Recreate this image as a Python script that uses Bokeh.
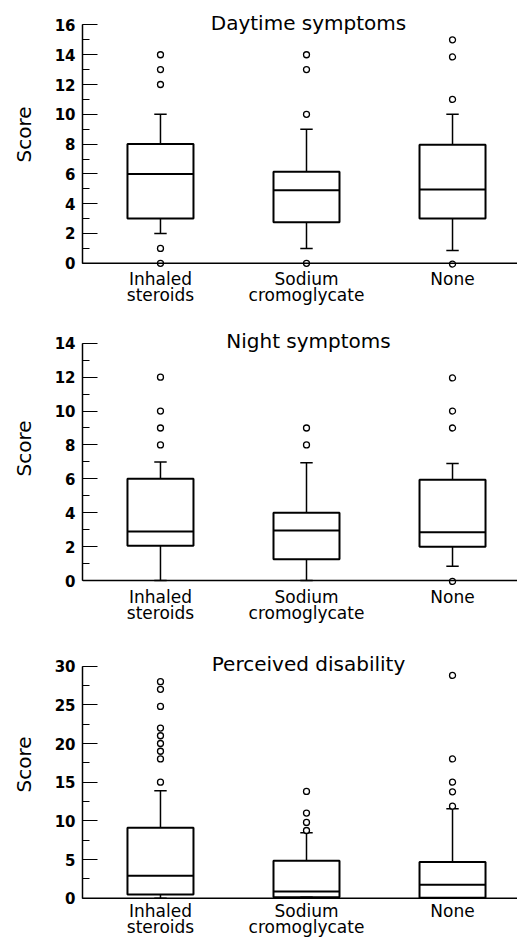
from bokeh.plotting import figure
from bokeh.models import Range1d, SingleIntervalTicker, FixedTicker, Span, Label
from bokeh.layouts import column
from bokeh.embed import file_html
from bokeh.resources import INLINE

# ---------------- data ----------------
categories = ["Inhaled\nsteroids", "Sodium\ncromoglycate", "None"]
titles = ["Daytime symptoms", "Night symptoms", "Perceived disability"]
y_max = [16, 14, 30]
y_tick_step = [2, 2, 5]

# Daytime symptoms
day_q1 = [3.0, 2.75, 3.0]
day_med = [6.0, 4.9, 4.95]
day_q3 = [8.0, 6.15, 7.95]
day_lo = [2.0, 1.0, 0.85]
day_hi = [10.0, 9.0, 10.0]
day_out_cat = [0, 0, 0, 0, 0, 1, 1, 1, 1, 2, 2, 2, 2]
day_out_val = [14, 13, 12, 1, 0, 14, 13, 10, 0, 15, 13.85, 11, -0.05]

# Night symptoms
night_q1 = [2.05, 1.25, 2.0]
night_med = [2.9, 2.95, 2.85]
night_q3 = [6.0, 4.0, 5.95]
night_lo = [0.0, 0.0, 0.85]
night_hi = [7.0, 6.95, 6.9]
night_out_cat = [0, 0, 0, 0, 1, 1, 2, 2, 2, 2]
night_out_val = [8, 9, 10, 12, 8, 9, 9, 10, 11.95, -0.05]

# Perceived disability
dis_q1 = [0.48, 0.13, 0.05]
dis_med = [2.9, 0.85, 1.73]
dis_q3 = [9.1, 4.85, 4.68]
dis_lo = [0.0, 0.13, 0.05]
dis_hi = [13.9, 8.45, 11.55]
dis_out_cat = [0, 0, 0, 0, 0, 0, 0, 0, 0, 1, 1, 1, 1, 2, 2, 2, 2, 2]
dis_out_val = [15, 18, 19, 20, 21, 22, 24.8, 27, 28, 8.75, 9.8, 11, 13.8,
               11.9, 13.75, 15, 18, 28.8]

xs = [i + 0.5 for i in range(len(categories))]
BOX_W = 0.452
CAP_W = 0.085
FONT = "DejaVu Sans"


def panel(idx, q1, med, q3, lo, hi, out_cat, out_val, height, y_start, y_end, border_bottom):
    ymax = y_max[idx]
    p = figure(width=517, height=height,
               x_range=Range1d(-0.034, 2.945), y_range=Range1d(y_start, y_end),
               output_backend="svg", toolbar_location=None,
               min_border_left=82, min_border_right=0, min_border_top=0,
               min_border_bottom=border_bottom)
    p.outline_line_color = None
    p.xgrid.visible = False
    p.ygrid.visible = False
    p.background_fill_color = "white"
    p.border_fill_color = "white"

    # y axis
    yax = p.yaxis[0]
    yax.ticker = SingleIntervalTicker(interval=y_tick_step[idx], num_minor_ticks=2)
    yax.bounds = (0, ymax)
    yax.axis_line_color = "black"
    yax.axis_line_width = 1.5
    yax.major_tick_in = 15
    yax.major_tick_out = 0
    yax.minor_tick_in = 7
    yax.minor_tick_out = 0
    yax.major_tick_line_color = "black"
    yax.minor_tick_line_color = "black"
    yax.major_tick_line_width = 1.2
    yax.minor_tick_line_width = 1.2
    yax.major_label_text_font = FONT
    yax.major_label_text_font_style = "bold"
    yax.major_label_text_font_size = "15px"
    yax.major_label_text_color = "black"
    yax.major_label_standoff = 7
    yax.axis_label = "Score"
    yax.axis_label_text_font = FONT
    yax.axis_label_text_font_style = "normal"
    yax.axis_label_text_font_size = "20px"
    yax.axis_label_text_color = "black"
    yax.axis_label_standoff = 16

    # x axis (labels only; line drawn at y=0)
    xax = p.xaxis[0]
    xax.ticker = FixedTicker(ticks=xs)
    xax.major_label_overrides = {x: c for x, c in zip(xs, categories)}
    xax.axis_line_color = None
    xax.major_tick_line_color = None
    xax.minor_tick_line_color = None
    xax.major_tick_out = 0
    xax.major_tick_in = 0
    xax.major_label_standoff = 0
    xax.major_label_text_font = FONT
    xax.major_label_text_font_size = "17px"
    xax.major_label_text_color = "black"
    xax.major_label_text_line_height = 0.84

    p.add_layout(Span(location=0, dimension="width", line_color="black", line_width=1.5))

    # whiskers
    p.segment(x0=xs, x1=xs, y0=lo, y1=hi, line_color="black", line_width=1.5)
    # boxes
    p.vbar(x=xs, width=BOX_W, bottom=q1, top=q3, fill_color="white",
           line_color="black", line_width=2)
    # medians
    p.segment(x0=[x - BOX_W / 2 for x in xs], x1=[x + BOX_W / 2 for x in xs],
              y0=med, y1=med, line_color="black", line_width=2)
    # caps
    p.segment(x0=[x - CAP_W / 2 for x in xs], x1=[x + CAP_W / 2 for x in xs],
              y0=hi, y1=hi, line_color="black", line_width=1.5)
    p.segment(x0=[x - CAP_W / 2 for x in xs], x1=[x + CAP_W / 2 for x in xs],
              y0=lo, y1=lo, line_color="black", line_width=1.5)
    # outliers
    p.scatter(x=[xs[c] for c in out_cat], y=out_val, size=6, marker="circle",
              fill_color="white", line_color="black", line_width=1.3)

    p.add_layout(Label(x=1.5, y=ymax, x_offset=2, y_offset=2, text=titles[idx],
                       text_align="center", text_baseline="middle",
                       text_font=FONT, text_font_size="20px", text_color="black"))
    return p


p1 = panel(0, day_q1, day_med, day_q3, day_lo, day_hi, day_out_cat, day_out_val,
           310, -0.35, 17.64, 42)
p2 = panel(1, night_q1, night_med, night_q3, night_lo, night_hi, night_out_cat,
           night_out_val, 318, -0.35, 15.93, 42)
p3 = panel(2, dis_q1, dis_med, dis_q3, dis_lo, dis_hi, dis_out_cat, dis_out_val,
           312, -0.3, 34.87, 40)

p = column(p1, p2, p3, spacing=0)

open("out.html", "w").write(file_html(p, INLINE))
